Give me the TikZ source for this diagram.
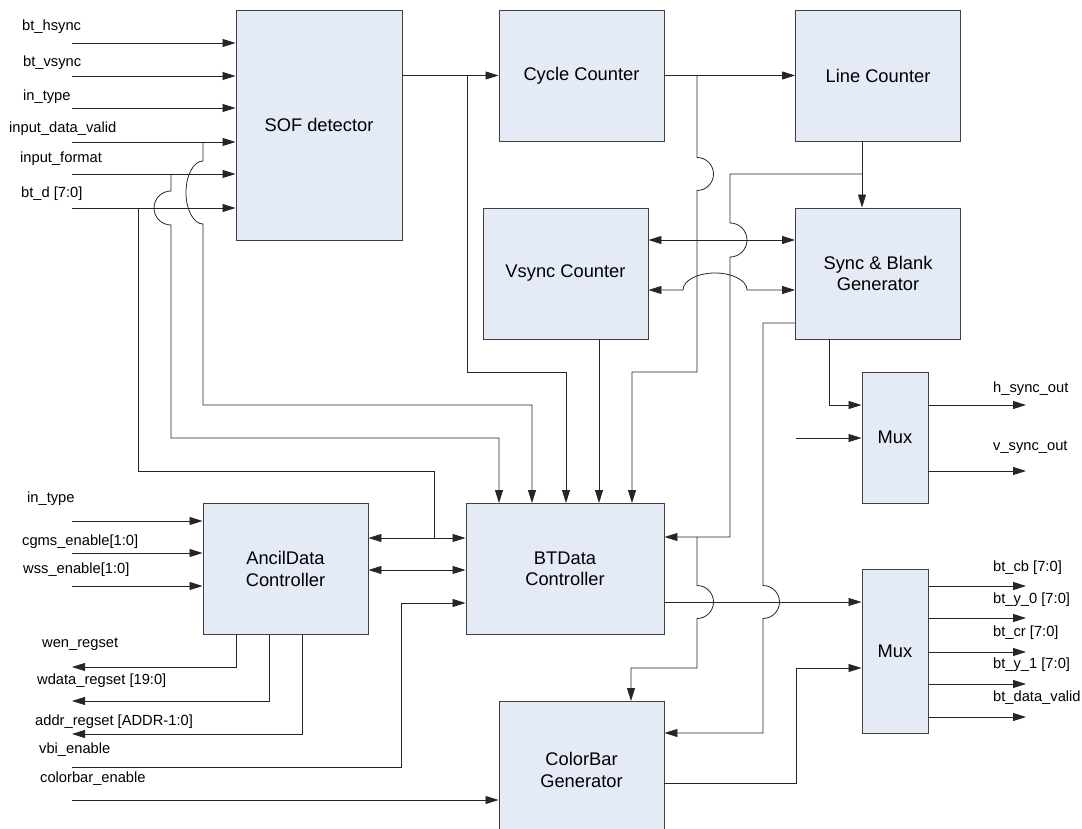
\documentclass[tikz,border=0pt]{standalone}
\usepackage{fontspec}
\setmainfont{Liberation Sans}
\usetikzlibrary{arrows.meta,positioning}
\definecolor{blockfill}{RGB}{228,235,247}
\definecolor{blockline}{RGB}{64,64,64}

\begin{document}
\begin{tikzpicture}[
    x=1pt, y=-1pt,
    every node/.style={align=center},
    block/.style={rectangle, draw=blockline, fill=blockfill, line width=0.9pt, minimum width=165pt, minimum height=131pt, inner sep=0pt, font=\fontsize{18.3}{21.5}\selectfont},
    sig/.style={anchor=west, inner sep=0pt, font=\fontsize{14.7}{17}\selectfont},
    wire/.style={line width=0.8pt, draw=black!85},
    arrow/.style={wire, -{Triangle[length=13pt, width=8pt]}},
    biarrow/.style={wire, {Triangle[length=13pt, width=8pt]}-{Triangle[length=13pt, width=8pt]}}
]
\useasboundingbox (0,0) rectangle (1082,829);
\clip (0,0) rectangle (1082,829);

% Main components
\node[block, minimum width=166pt, minimum height=230pt] (sof) at (319,125) {SOF detector};
\node[block] (cycle) at (581.5,75.5) {Cycle Counter};
\node[block] (line) at (878,75.5) {Line Counter};
\node[block] (vsync) at (565.5,273.5) {Vsync Counter};
\node[block] (sync) at (878,273.5) {Sync \& Blank\\Generator};
\node[block, minimum width=66pt] (muxs) at (895,437.5) {Mux};
\node[block, minimum width=66pt, minimum height=164pt] (muxd) at (895,651) {Mux};
\node[block] (ancil) at (285.5,569) {AncilData\\Controller};
\node[block, minimum width=198pt] (btdata) at (565,569) {BTData\\Controller};
\node[block, minimum height=137pt, anchor=north] (colorbar) at (581.5,701) {ColorBar\\Generator};

% Inputs of the SOF detector
\foreach \y/\n/\t/\lx/\ly in {43/hs/bt\_hsync/22/27, 76/vs/bt\_vsync/23/63, 108/ty/in\_type/23/97,
    142/dv/input\_data\_valid/9/128.5, 174/fm/input\_format/20/158.5, 208/bd/bt\_d [7:0]/21/194}{
  \coordinate (\n) at (72,\y);
  \node[sig] (\n-lbl) at (\lx,\ly) {\t};
  \draw[arrow] (\n) -- (\n -| sof.west);
}

% Taps from the inputs down to the BTData controller
\draw[arrow] (171,174) -- (171,191) arc[start angle=90, end angle=270, radius=17pt] -- (171,438) -| (btdata.north -| 499,0);
\draw[arrow] (203,142) -- (203,161) arc[start angle=90, end angle=270, x radius=17pt, y radius=31.5pt] -- (203,405) -| (btdata.north -| 532,0);
\coordinate (jd) at (434,538);
\draw[wire] (138,208) |- (434,471) -- (jd);

% Counter chain
\draw[arrow] (sof.east |- cycle.west) -- (cycle.west);
\draw[arrow] (467,75.5) |- (566,372) -- (btdata.north -| 566,0);
\draw[arrow] (cycle.east) -- (line.west);
\draw[arrow] (697,75.5) -- (697,157.5) arc[start angle=90, end angle=-90, radius=16.5pt] -- (697,372) -| (btdata.north -| 632,0);
\draw[arrow] (line.south -| 862,0) -- (sync.north -| 862,0);
\draw[arrow] (862,174) -| (730,223) arc[start angle=90, end angle=-90, radius=17pt] -- (730,537) -- (btdata.east |- 0,537);
\draw[arrow] (697,537) -- (697,585.5) arc[start angle=90, end angle=-90, radius=16.5pt] -- (697,668) -| (colorbar.north -| 631,0);

% Vsync counter <-> sync & blank generator
\draw[biarrow] (vsync.east |- 0,240) -- (sync.west |- 0,240);
\draw[biarrow] (vsync.east |- 0,290) -- (683,290) arc[start angle=180, end angle=0, x radius=32pt, y radius=17pt] -- (sync.west |- 0,290);
\draw[arrow] (vsync.south -| 599,0) -- (btdata.north -| 599,0);

% Sync & blank outputs
\draw[arrow] (sync.west |- 0,323) -| (763,585.5) arc[start angle=90, end angle=-90, radius=16.5pt] -- (763,733) -- (colorbar.east |- 0,733);
\draw[arrow] (sync.south -| 829,0) |- (muxs.west |- 0,405);
\coordinate (mx) at (796,438);
\draw[arrow] (mx) -- (mx -| muxs.west);

% Sync mux outputs
\foreach \y/\n/\t/\ly in {405/hso/h\_sync\_out/389, 471/vso/v\_sync\_out/447}{
  \coordinate (\n) at (1026,\y);
  \node[sig] (\n-lbl) at (993,\ly) {\t};
  \draw[arrow] (muxs.east |- \n) -- (\n);
}

% Ancillary data controller
\foreach \y/\n/\t/\lx/\ly in {521/ati/in\_type/27/499, 553/cge/cgms\_enable[1:0]/22/541.5, 586/wse/wss\_enable[1:0]/23/569.5}{
  \coordinate (\n) at (72,\y);
  \node[sig] (\n-lbl) at (\lx,\ly) {\t};
  \draw[arrow] (\n) -- (\n -| ancil.west);
}
\foreach \x/\y/\n/\t/\lx/\ly in {236/667/wen/wen\_regset/42/644, 269/701/wda/wdata\_regset [19:0]/37/681,
    302/734/adr/addr\_regset [ADDR-1:0]/35/722}{
  \coordinate (\n) at (72,\y);
  \node[sig] (\n-lbl) at (\lx,\ly) {\t};
  \draw[arrow] (ancil.south -| \x,0) |- (\n);
}
\draw[biarrow] (ancil.east |- jd) -- (btdata.west |- jd);
\draw[biarrow] (ancil.east |- 0,570) -- (btdata.west |- 0,570);

% Enables
\coordinate (vbi) at (72,767);
\node[sig] (vbi-lbl) at (39,750) {vbi\_enable};
\draw[arrow] (vbi) -| (401,603) -- (btdata.west |- 0,603);
\coordinate (cbe) at (72,800);
\node[sig] (cbe-lbl) at (40,779) {colorbar\_enable};
\draw[arrow] (cbe) -- (cbe -| colorbar.west);

% Data path into the output mux
\draw[arrow] (btdata.east |- 0,602) -- (muxd.west |- 0,602);
\draw[arrow] (colorbar.east |- 0,783) -| (796,668) -- (muxd.west |- 0,668);

\foreach \y/\n/\t/\ly in {586/ocb/bt\_cb [7:0]/567.5, 618/oy0/bt\_y\_0 [7:0]/600, 652/ocr/bt\_cr [7:0]/632.5,
    684/oy1/bt\_y\_1 [7:0]/665, 717/odv/bt\_data\_valid/697.5}{
  \coordinate (\n) at (1026,\y);
  \node[sig] (\n-lbl) at (993,\ly) {\t};
  \draw[arrow] (muxd.east |- \n) -- (\n);
}

\end{tikzpicture}
\end{document}
